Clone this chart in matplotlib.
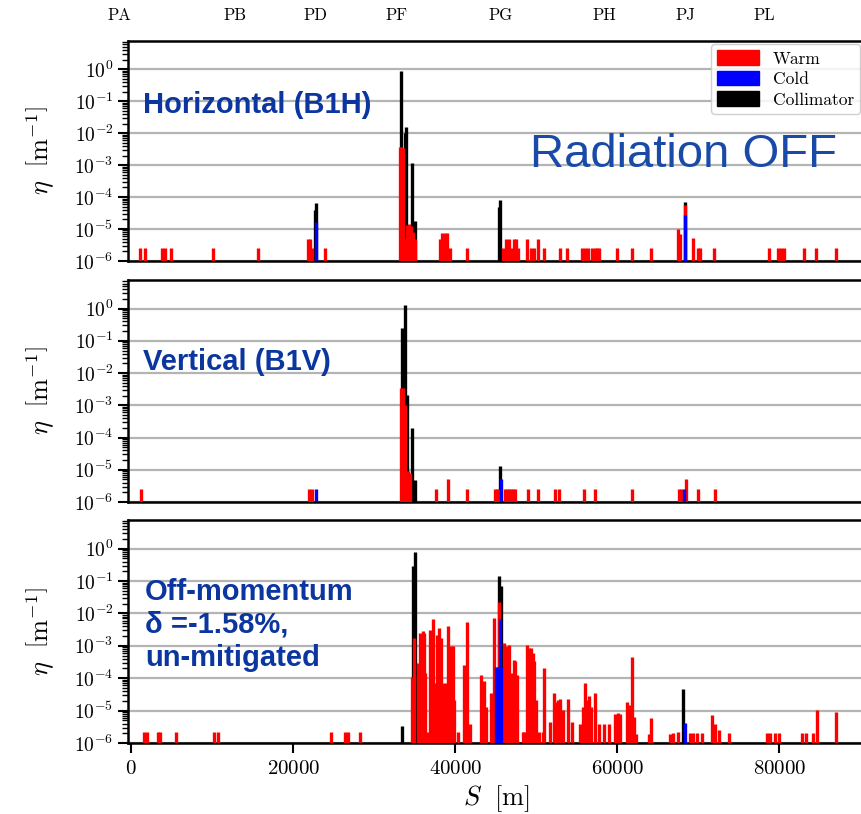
import numpy as np
import matplotlib
matplotlib.use('Agg')
import matplotlib.pyplot as plt
import matplotlib.patches as mpatches
import matplotlib.transforms as mtransforms
from matplotlib.ticker import LogLocator, FuncFormatter, NullFormatter, FixedLocator

plt.rcParams['mathtext.fontset'] = 'cm'

# ---- data (S in m, eta in 1/m) ----
ips = ['PA', 'PB', 'PD', 'PF', 'PG', 'PH', 'PJ', 'PL']
ip_pos = [-1500, 12800, 22700, 32700, 45550, 58400, 68350, 78150]

# Horizontal (B1H)
h_warm_s = [1100, 1700, 3800, 4200, 4950, 10100, 15700, 21850, 22100, 22350, 23900,
            33150, 33350, 33550, 33750, 34050, 34300, 34550, 34800, 35000,
            38100, 38400, 38700, 39000, 39300, 41400, 45900, 46200, 46600, 46900,
            47200, 47500, 47800, 48900, 49300, 49700, 50200, 51000, 52950, 53800,
            55700, 56000, 56400, 56900, 57200, 57500, 57800, 60000, 61800, 64200,
            67550, 67800, 68400, 69400, 69950, 70250, 71900, 78750, 79850, 80200,
            80550, 83100, 84550, 87050]
h_warm_eta = [2.5e-6, 2.5e-6, 2.5e-6, 2.5e-6, 2.5e-6, 2.5e-6, 2.5e-6, 5e-6, 5e-6, 2.5e-6, 2.5e-6,
              3.8e-3, 3.8e-3, 3.5e-3, 5e-6, 1.3e-5, 1.4e-5, 1.2e-5, 8e-6, 5e-6,
              5e-6, 7.4e-6, 7.4e-6, 7.4e-6, 2.5e-6, 2.5e-6, 2.5e-6, 5e-6, 5e-6, 2.5e-6,
              5e-6, 5e-6, 2.5e-6, 5e-6, 2.5e-6, 2.5e-6, 5e-6, 2.5e-6, 2.5e-6, 2.5e-6,
              2.5e-6, 2.5e-6, 2.5e-6, 2.5e-6, 2.5e-6, 2.5e-6, 2.5e-6, 2.5e-6, 2.5e-6, 2.5e-6,
              1e-5, 7e-6, 5.7e-5, 5.2e-6, 2.5e-6, 2.5e-6, 2.5e-6, 2.5e-6, 2.5e-6, 2.5e-6,
              2.5e-6, 2.5e-6, 2.5e-6, 2.5e-6]
h_cold_s = [22840, 68400]
h_cold_eta = [1.7e-5, 2.8e-5]
h_coll_s = [22700, 22840, 33330, 33800, 33950, 34700, 34980, 45450, 45560, 68400]
h_coll_eta = [4e-5, 6.5e-5, 0.9, 0.01, 0.0155, 1.15e-3, 1.8e-5, 5e-5, 7.9e-5, 7.2e-5]

# Vertical (B1V)
v_warm_s = [1200, 22000, 22350, 33350, 33600, 33850, 34150, 34400, 37600, 39100, 41500,
            44900, 45150, 45400, 46100, 46350, 46600, 46850, 47100, 47400, 48950, 50150,
            52350, 52850, 55950, 57200, 61850, 67600, 67900, 68450, 69950, 72000]
v_warm_eta = [2.5e-6, 2.5e-6, 2.5e-6, 3.5e-3, 3.5e-3, 1e-3, 9e-6, 8e-6, 2.5e-6, 5e-6, 2.5e-6,
              2.5e-6, 2.5e-6, 2.5e-6, 2.5e-6, 2.5e-6, 2.5e-6, 2.5e-6, 2.5e-6, 2.5e-6, 2.5e-6, 2.5e-6,
              2.5e-6, 2.5e-6, 2.5e-6, 2.5e-6, 2.5e-6, 2.5e-6, 2.5e-6, 5e-6, 2.5e-6, 2.5e-6]
v_cold_s = [22840, 45680, 68280]
v_cold_eta = [2.5e-6, 5e-6, 2.5e-6]
v_coll_s = [33400, 33850, 34080, 34700, 35040, 45560]
v_coll_eta = [0.25, 1.33, 2.1e-3, 2e-4, 4.9e-6, 1.27e-5]

# Off-momentum, delta = -1.58 %
o_warm_s = [1600, 1950, 3350, 3600, 5550, 10250, 10700, 24700, 26350, 26800, 28300,
            34650, 34900, 35350, 35680, 36010, 36170, 36300, 36500, 36910, 37200,
            37450, 37740, 38030, 38230, 38560, 38970, 39140, 39470, 39670, 39880,
            40290, 41030, 41440, 41770, 43210, 43500, 43830, 44450, 44730, 45020,
            45430, 46050, 46380, 46670, 46910, 47200, 47410, 47610, 48310, 48520,
            48850, 49140, 49380, 49590, 49750, 50000, 50290, 50830, 50990, 51730,
            52140, 52350, 52630, 52960, 53300, 53910, 54400, 55350, 55720, 55960,
            56260, 56540, 56750, 57200, 57780, 58400, 58930, 59750, 60040, 60370,
            61200, 61480, 61810, 62100, 62350, 63870, 64160, 66540, 66900, 67500,
            68950, 69400, 69900, 70400, 71650, 72050, 72500, 73800, 78450, 78800,
            79450, 80000, 82850, 83250, 84200, 84600, 87050]
o_warm_log = [-5.65, -5.65, -5.65, -5.65, -5.65, -5.65, -5.65, -5.65, -5.65, -5.65, -5.65,
              -3.95, -2.75, -3.53, -2.6, -2.55, -2.6, -3.85, -5.67, -2.5, -2.16,
              -4.16, -2.65, -2.44, -2.75, -4.16, -4.16, -2.39, -3.0, -3.0, -4.68,
              -5.67, -3.59, -2.27, -5.4, -3.9, -4.1, -4.89, -4.47, -2.13, -4.68,
              -1.66, -2.91, -3.0, -2.98, -3.85, -3.43, -3.48, -3.9, -5.67, -5.67,
              -2.98, -3.07, -3.07, -3.22, -3.48, -4.68, -5.67, -5.67, -3.69, -5.35,
              -4.45, -4.73, -4.68, -4.63, -4.99, -4.63, -5.35, -5.4, -4.89, -4.14,
              -4.68, -4.55, -4.89, -4.47, -5.4, -5.4, -5.4, -5.09, -5.07, -5.09,
              -4.73, -4.83, -3.33, -5.2, -5.72, -5.72, -5.22, -5.72, -5.7, -5.67,
              -5.7, -5.7, -5.7, -5.7, -5.15, -5.4, -5.6, -5.7, -5.7, -5.7,
              -5.7, -5.7, -5.7, -5.7, -5.7, -4.97, -5.05]
o_cold_s = [45050, 45250, 45480, 45620, 68400]
o_cold_eta = [2.3e-4, 2.3e-4, 6.6e-3, 2.3e-4, 4.3e-6]
o_coll_s = [33420, 34730, 35020, 45430, 45640, 68150]
o_coll_eta = [3.3e-6, 0.3, 0.79, 0.14, 0.072, 4.5e-5]

# ---- figure ----
fig = plt.figure(figsize=(8.61, 8.14), dpi=100)
left, width = 128 / 861, 738 / 861
ax1 = fig.add_axes([left, 0.6794, width, 0.2703])
ax2 = fig.add_axes([left, 0.3833, width, 0.2727])
ax3 = fig.add_axes([left, 0.0872, width, 0.2740])

panels = [
    (ax1, h_warm_s, h_warm_eta, h_cold_s, h_cold_eta, h_coll_s, h_coll_eta),
    (ax2, v_warm_s, v_warm_eta, v_cold_s, v_cold_eta, v_coll_s, v_coll_eta),
    (ax3, o_warm_s, 10.0 ** np.array(o_warm_log), o_cold_s, o_cold_eta, o_coll_s, o_coll_eta),
]

ylo, yhi = 1e-6, 7.7
for ax, ws, we, cs, ce, ks, ke in panels:
    ax.set_yscale('log')
    ax.set_ylim(ylo, yhi)
    ax.set_xlim(-400, 90700)
    ax.vlines(ks, ylo, ke, color='black', lw=2.4, zorder=3)
    ax.vlines(ws, ylo, we, color='red', lw=2.4, zorder=4)
    ax.vlines(cs, ylo, ce, color='blue', lw=2.4, zorder=5)
    ax.yaxis.set_major_locator(LogLocator(base=10, numticks=15))
    ax.yaxis.set_minor_locator(LogLocator(base=10, subs=np.arange(2, 10), numticks=15))
    ax.yaxis.set_major_formatter(FuncFormatter(lambda v, p: r'$10^{%d}$' % int(round(np.log10(v)))))
    ax.yaxis.set_minor_formatter(NullFormatter())
    ax.grid(axis='y', which='major', color='#b4b4b4', lw=1.6, zorder=1)
    ax.set_axisbelow(True)
    for sp in ax.spines.values():
        sp.set_linewidth(1.8)
    ax.tick_params(axis='y', which='major', direction='out', length=7, width=1.5, labelsize=14)
    ax.tick_params(axis='y', which='minor', direction='out', length=4, width=1.0)
    ax.set_ylabel(r'$\eta\ \ \left[\mathrm{m}^{-1}\right]$', fontsize=19, labelpad=12)

for ax in (ax1, ax2):
    ax.tick_params(axis='x', which='both', bottom=False, labelbottom=False)

ax3.xaxis.set_major_locator(FixedLocator([0, 20000, 40000, 60000, 80000]))
ax3.xaxis.set_major_formatter(FuncFormatter(lambda v, p: r'$%d$' % v))
ax3.tick_params(axis='x', direction='out', length=7, width=1.5, labelsize=15)
ax3.set_xlabel(r'$S\ \ [\mathrm{m}]$', fontsize=19)

# IP labels on top
trans = mtransforms.blended_transform_factory(ax1.transData, fig.transFigure)
for name, s in zip(ips, ip_pos):
    ax1.text(s, 0.981, name, transform=trans, ha='center', va='center',
             family='cmr10', fontsize=12)

# legend
handles = [mpatches.Patch(color='red', label='Warm'),
           mpatches.Patch(color='blue', label='Cold'),
           mpatches.Patch(color='black', label='Collimator')]
ax1.legend(handles=handles, loc='upper right', bbox_to_anchor=(0.992, 0.985),
           borderaxespad=0, prop={'family': 'cmr10', 'size': 12.5}, fancybox=True,
           framealpha=0.85, edgecolor='#c8c8c8', handlelength=2.4, handleheight=0.9,
           labelspacing=0.25, borderpad=0.35, handletextpad=0.8)

# annotations
dark_blue = '#0b36a0'
ax1.text(0.02, 0.71, 'Horizontal (B1H)', transform=ax1.transAxes, ha='left', va='center',
         family='Liberation Sans', fontweight='bold', fontsize=21, color=dark_blue)
ax1.text(0.545, 0.48, 'Radiation OFF', transform=ax1.transAxes, ha='left', va='center',
         family='Liberation Sans', fontsize=34, color='#1a4aa8')
ax2.text(0.02, 0.63, 'Vertical (B1V)', transform=ax2.transAxes, ha='left', va='center',
         family='Liberation Sans', fontweight='bold', fontsize=21, color=dark_blue)
ax3.text(0.023, 0.53, 'Off-momentum\nδ =-1.58%,\nun-mitigated', transform=ax3.transAxes,
         ha='left', va='center', family='Liberation Sans', fontweight='bold', fontsize=21,
         color=dark_blue, linespacing=1.22)

fig.savefig('out.png', dpi=100)
